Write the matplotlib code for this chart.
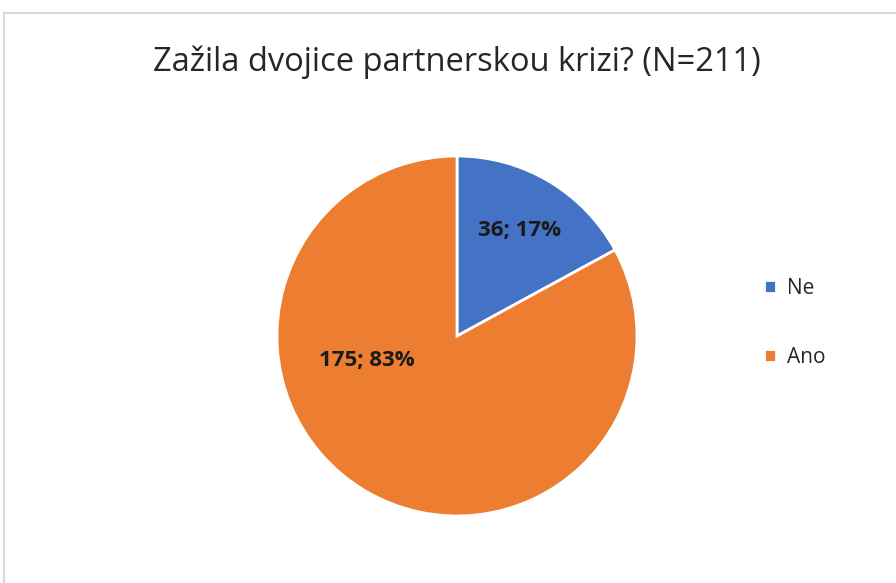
import matplotlib
matplotlib.use("Agg")
import matplotlib.pyplot as plt
import numpy as np
from matplotlib.lines import Line2D

categories = ["Ne", "Ano"]
values = [36, 175]
colors = ["#4472C4", "#ED7D31"]
title = "Zažila dvojice partnerskou krizi? (N=211)"

# label placement (distance from centre as fraction of radius, angle in degrees; None = wedge middle)
label_dist = [0.68, 0.52]
label_angle = [None, 195]

W, H = 896, 583
fig = plt.figure(figsize=(W / 100, H / 100), dpi=100)
plt.rcParams['font.family'] = ['Open Sans', 'DejaVu Sans']

# chart border
fig.add_artist(Line2D([4 / W, 4 / W], [0, 1 - 13 / H], transform=fig.transFigure, color="#D9D9D9", lw=1.5))
fig.add_artist(Line2D([4 / W, 1], [1 - 13 / H, 1 - 13 / H], transform=fig.transFigure, color="#D9D9D9", lw=1.5))

cx, cy, r = 457, 336, 180
ax = fig.add_axes([(cx - r) / W, 1 - (cy + r) / H, 2 * r / W, 2 * r / H])
wedges, _ = ax.pie(values, colors=colors, startangle=90, counterclock=False,
                   wedgeprops=dict(edgecolor="white", linewidth=2))
ax.set_xlim(-1, 1)
ax.set_ylim(-1, 1)
ax.set_aspect("equal")

total = sum(values)
for w, v, d, a in zip(wedges, values, label_dist, label_angle):
    ang = np.deg2rad((w.theta1 + w.theta2) / 2 if a is None else a)
    ax.text(d * np.cos(ang), d * np.sin(ang), f"{v}; {round(100 * v / total)}%",
            ha="center", va="center", fontsize=16, fontweight="bold", color="#1a1a1a")

fig.text(457 / W, 1 - 62 / H, title, ha="center", va="center", fontsize=23.5, color="#262626")

leg = fig.legend(wedges, categories, loc="upper left", bbox_to_anchor=(745 / W, 1 - 259 / H),
                 frameon=False, fontsize=15, handlelength=0.6, handleheight=0.6,
                 handletextpad=0.5, labelspacing=2.3)
for t in leg.get_texts():
    t.set_color("#262626")

fig.savefig("out.png", dpi=100)
